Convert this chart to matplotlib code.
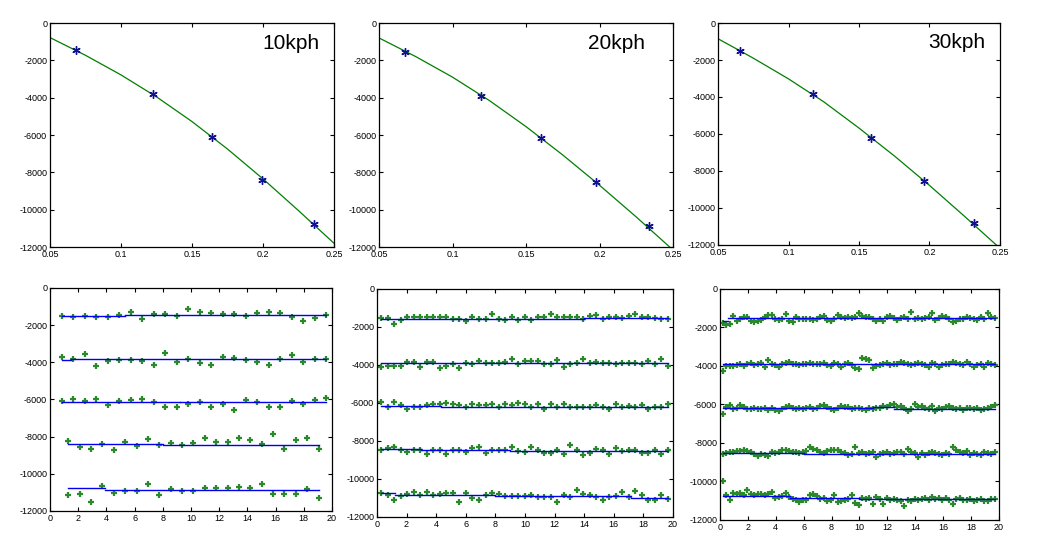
import matplotlib
matplotlib.use('Agg')
import matplotlib.pyplot as plt
import numpy as np

plt.rcParams['font.family'] = ['Liberation Sans', 'DejaVu Sans']
plt.rcParams['axes.unicode_minus'] = False

speeds = ['10kph', '20kph', '30kph']

# top row: measured points (stars) and fitted curve
star_x = [[0.0682, 0.1223, 0.164, 0.199, 0.2357],
          [0.0678, 0.1197, 0.160, 0.1977, 0.2334],
          [0.0656, 0.1175, 0.1585, 0.196, 0.2313]]
star_y = [[-1464, -3820, -6107, -8430, -10786],
          [-1549, -3899, -6178, -8493, -10896],
          [-1511, -3849, -6205, -8525, -10827]]
curve_x = [0.05, 0.075, 0.1, 0.125, 0.15, 0.175, 0.2, 0.225, 0.25]
curve_y = [[-780, -1730, -2780, -3955, -5280, -6750, -8350, -10050, -11800],
           [-800, -1800, -2900, -4150, -5550, -7070, -8690, -10390, -12160],
           [-850, -1900, -3020, -4260, -5680, -7180, -8780, -10460, -12180]]

# bottom row: 10kph samples
s10_l1 = [-1500, -1570, -1530, -1570, -1570, -1480, -1280, -1660, -1390, -1420, -1510, -1140,
          -1300, -1350, -1400, -1420, -1500, -1350, -1320, -1350, -1570, -1780, -1600, -1460]
s10_l2 = [-3730, -3800, -3570, -4180, -3910, -3870, -3850, -3950, -4140, -3480, -3960, -3840,
          -4050, -4160, -3730, -3750, -3890, -3980, -4140, -3840, -3590, -3960, -3840, -3800]
s10_l3 = [-6090, -5980, -6090, -6000, -6310, -6070, -6050, -6000, -6140, -6380, -6380, -6270,
          -6130, -6380, -6220, -6560, -6050, -6110, -6380, -6380, -6070, -6270, -6050, -5910]
s10_l4 = [-8250, -8560, -8650, -8380, -8740, -8290, -8520, -8110, -8430, -8320, -8470, -8320,
          -8050, -8310, -8310, -8050, -8200, -8410, -7840, -8650, -8160, -8050, -8650]
s10_l5 = [-11120, -11100, -11530, -10630, -11050, -10900, -10900, -10540, -11150, -10830, -10900, -10950,
          -10740, -10770, -10740, -10700, -10740, -10560, -11100, -11100, -11100, -10830, -11300]

# 20kph samples
s20_l1 = [-1550, -1550, -1850, -1620, -1450, -1450, -1480, -1480, -1480, -1480, -1480, -1570,
          -1570, -1700, -1450, -1570, -1570, -1300, -1600, -1640, -1450, -1630, -1450, -1620,
          -1460, -1460, -1330, -1480, -1470, -1480, -1480, -1600, -1420, -1370, -1570, -1480,
          -1480, -1520, -1440, -1340, -1480, -1460, -1520, -1560, -1570]
s20_l2 = [-4100, -4060, -4060, -4060, -3840, -3840, -4100, -3840, -3840, -4170, -4040, -3970,
          -4170, -3900, -3950, -3780, -3880, -3880, -3880, -3830, -3660, -3970, -3780, -3780,
          -3780, -3950, -3970, -3740, -4100, -3970, -3920, -3710, -3920, -3830, -3880, -3920,
          -3950, -3920, -3880, -3920, -3950, -3780, -3950, -3700, -4060]
s20_l3 = [-5950, -6200, -5950, -6120, -6290, -6200, -6200, -6080, -6030, -6030, -5990, -6030,
          -6120, -6200, -6030, -6120, -6120, -6030, -6200, -6030, -6120, -5990, -6030, -6200,
          -6030, -6290, -6030, -6200, -6030, -6200, -6200, -6200, -6200, -6120, -6200, -6340,
          -6030, -6200, -6170, -6200, -6120, -6290, -6200, -6200, -6050]
s20_l4 = [-8450, -8350, -8300, -8500, -8600, -8450, -8450, -8700, -8450, -8450, -8700, -8500,
          -8500, -8600, -8350, -8300, -8650, -8450, -8450, -8450, -8300, -8550, -8600, -8300,
          -8450, -8650, -8650, -8500, -8700, -8200, -8450, -8750, -8650, -8400, -8500, -8700,
          -8350, -8550, -8500, -8500, -8650, -8650, -8500, -8700, -8500]
s20_l5 = [-10750, -10850, -11100, -10900, -10800, -10700, -10850, -10700, -10850, -10800, -10750, -10750,
          -11200, -10750, -11000, -11100, -10850, -10750, -10800, -10900, -10900, -10900, -10900, -10850,
          -10950, -10950, -10950, -11200, -10850, -10950, -10600, -10800, -10850, -10950, -11100, -10950,
          -10900, -10700, -10950, -10650, -10850, -11100, -11100, -10850, -11050]

# 30kph samples
s30_l1 = [-1750, -1850, -1800, -1400, -1650, -1550, -1450, -1450, -1650, -1700,
          -1650, -1600, -1450, -1350, -1350, -1550, -1600, -1550, -1300, -1650,
          -1700, -1450, -1550, -1550, -1550, -1550, -1600, -1550, -1450, -1400,
          -1600, -1650, -1550, -1350, -1450, -1500, -1450, -1500, -1450, -1250,
          -1400, -1450, -1450, -1550, -1650, -1550, -1650, -1450, -1400, -1500,
          -1600, -1500, -1450, -1550, -1200, -1550, -1500, -1550, -1500, -1450,
          -1250, -1600, -1500, -1400, -1450, -1550, -1700, -1650, -1550, -1550,
          -1450, -1500, -1550, -1600, -1450, -1550, -1250, -1450, -1500]
s30_l2 = [-4250, -4000, -4000, -4000, -3950, -3900, -4000, -3900, -3850, -3950,
          -3900, -3850, -4050, -3700, -3900, -3950, -4050, -3900, -3850, -3800,
          -3900, -3900, -3950, -3900, -3900, -3850, -3900, -3900, -3900, -3850,
          -3950, -4000, -3850, -3900, -4050, -3900, -3850, -3950, -4100, -4150,
          -3600, -3650, -3700, -4100, -4000, -3950, -3900, -3850, -3950, -3900,
          -3900, -3800, -3850, -3900, -3950, -3900, -3850, -3900, -3950, -4050,
          -3850, -3900, -4050, -3950, -3900, -3900, -3800, -3850, -3900, -3950,
          -3800, -3900, -4050, -3950, -3900, -4050, -3850, -3900, -3950]
s30_l3 = [-6500, -6150, -6050, -6250, -6200, -6050, -6150, -6250, -6250, -6200,
          -6250, -6250, -6200, -6300, -6200, -6300, -6350, -6250, -6150, -6100,
          -6200, -6250, -6200, -6250, -6200, -6150, -6250, -6200, -6100, -6050,
          -6150, -6250, -6300, -6200, -6100, -6150, -6150, -6250, -6200, -6200,
          -6250, -6300, -6200, -6250, -6200, -6200, -6100, -6150, -6050, -6000,
          -6150, -6100, -6200, -6350, -6250, -6000, -6150, -6100, -6200, -6250,
          -6100, -6350, -6200, -6250, -6150, -6100, -6200, -6250, -6200, -6300,
          -6200, -6200, -6250, -6200, -6300, -6250, -6200, -6150, -6050]
s30_l4 = [-8550, -8500, -8450, -8450, -8400, -8400, -8350, -8400, -8450, -8550,
          -8650, -8550, -8600, -8650, -8450, -8500, -8450, -8350, -8350, -8400,
          -8450, -8450, -8500, -8450, -8400, -8200, -8300, -8350, -8450, -8500,
          -8400, -8350, -8350, -8350, -8450, -8500, -8600, -8550, -8200, -8500,
          -8450, -8550, -8500, -8450, -8750, -8550, -8500, -8450, -8550, -8500,
          -8450, -8450, -8550, -8300, -8450, -8500, -8750, -8500, -8600, -8500,
          -8450, -8500, -8550, -8600, -8500, -8550, -8200, -8350, -8450, -8500,
          -8400, -8600, -8500, -8550, -8600, -8450, -8500, -8550, -8450]
s30_l5 = [-10000, -10700, -10950, -10600, -10650, -10600, -10700, -10450, -10650, -10700,
          -10650, -10650, -10700, -10650, -10550, -10850, -10800, -10750, -10600, -10800,
          -10900, -10950, -11050, -10950, -10950, -10700, -10650, -10750, -10900, -10850,
          -11000, -10950, -10700, -11050, -11000, -10950, -10900, -10700, -11100, -11200,
          -10850, -10900, -10850, -11150, -10800, -10900, -11150, -10850, -10950, -10900,
          -10950, -11000, -11250, -10950, -11000, -10900, -10950, -10900, -10850, -10950,
          -10800, -10900, -10850, -10950, -10850, -10950, -11150, -10900, -10850, -10950,
          -10950, -10900, -11000, -10950, -10900, -11000, -11000, -10900, -10900]

samples = [[s10_l1, s10_l2, s10_l3, s10_l4, s10_l5],
           [s20_l1, s20_l2, s20_l3, s20_l4, s20_l5],
           [s30_l1, s30_l2, s30_l3, s30_l4, s30_l5]]
# time span (first, last sample) of each level
spans = [[(0.85, 19.6), (0.85, 19.6), (0.85, 19.6), (1.3, 19.05), (1.3, 19.05)],
         [(0.3, 19.65)] * 5,
         [(0.2, 19.7)] * 5]

# blue mean lines: (start, end, level)
means = [[[(0.85, 5.3, -1500), (5.3, 19.6, -1450)],
          [(0.85, 1.5, -3850), (1.5, 19.6, -3800)],
          [(0.85, 9.2, -6130), (9.2, 19.6, -6160)],
          [(1.3, 8.0, -8410), (8.0, 19.05, -8470)],
          [(1.3, 3.9, -10760), (3.9, 19.05, -10850)]],
         [[(0.3, 14.0, -1560), (14.0, 19.65, -1540)],
          [(0.3, 10.0, -3880), (10.0, 19.65, -3900)],
          [(0.3, 4.3, -6150), (4.3, 19.65, -6200)],
          [(0.3, 3.0, -8420), (3.0, 9.0, -8470), (9.0, 19.65, -8520)],
          [(0.3, 1.2, -10750), (1.2, 8.0, -10830), (8.0, 17.2, -10900), (17.2, 19.65, -10980)]],
         [[(0.2, 0.6, -1650), (0.6, 19.7, -1520)],
          [(0.2, 10.8, -3880), (10.8, 19.7, -3900)],
          [(0.2, 11.0, -6200), (11.0, 12.5, -6150), (12.5, 19.7, -6220)],
          [(0.2, 6.0, -8500), (6.0, 19.7, -8550)],
          [(0.2, 5.0, -10750), (5.0, 10.0, -10850), (10.0, 19.7, -10900)]]]

top_pos = [[0.0482, 0.5533, 0.2739, 0.4051],
           [0.3655, 0.5533, 0.2835, 0.4051],
           [0.6924, 0.5570, 0.2719, 0.4014]]
bot_pos = [[0.0482, 0.0760, 0.2719, 0.4033],
           [0.3635, 0.0651, 0.2854, 0.4123],
           [0.6943, 0.0597, 0.2690, 0.4177]]
label_x = [0.95, 0.905, 0.947]

green = '#007f00'
yt = [0, -2000, -4000, -6000, -8000, -10000, -12000]


def style(ax):
    ax.tick_params(direction='in', top=True, right=True, labelsize=6.5, length=3, width=0.8, pad=2)
    for s in ax.spines.values():
        s.set_linewidth(0.9)
    ax.set_yticks(yt)
    ax.set_yticklabels([str(v) for v in yt])
    ax.set_ylim(-12000, 0)


fig = plt.figure(figsize=(10.37, 5.53), dpi=100)

for k in range(3):
    ax = fig.add_axes(top_pos[k])
    ax.plot(curve_x, curve_y[k], color=green, lw=0.9)
    ax.plot(star_x[k], star_y[k], marker=(6, 2, 0), ls='none', color='#101090', ms=6, mew=1.0)
    ax.set_xlim(0.05, 0.25)
    ax.set_xticks([0.05, 0.1, 0.15, 0.2, 0.25])
    ax.set_xticklabels(['0.05', '0.1', '0.15', '0.2', '0.25'])
    style(ax)
    ax.text(label_x[k], 0.91, speeds[k], transform=ax.transAxes, ha='right', va='center',
            fontsize=15)

    ax = fig.add_axes(bot_pos[k])
    for j in range(5):
        vals = samples[k][j]
        t0, t1 = spans[k][j]
        t = np.linspace(t0, t1, len(vals))
        ax.plot(t, vals, '+', color='#2a8a2a', ms=5, mew=1.6)
        for a, b, lev in means[k][j]:
            ax.plot([a, b], [lev, lev], color='#0000ee', lw=1)
    ax.set_xlim(0, 20)
    ax.set_xticks(range(0, 21, 2))
    style(ax)

fig.savefig('out.png', dpi=100)
